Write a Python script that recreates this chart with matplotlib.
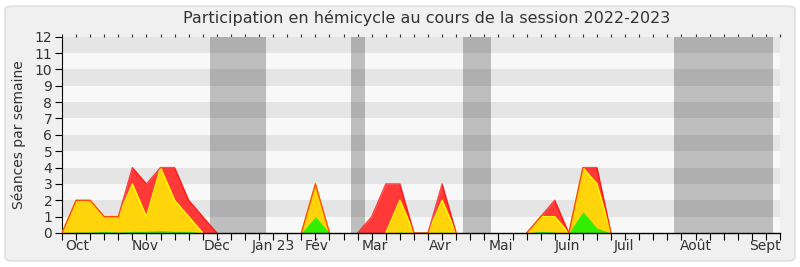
import matplotlib
matplotlib.use('Agg')
from matplotlib import pyplot as plt
from matplotlib.patches import FancyBboxPatch
import numpy as np

# weekly values, 52 weeks from end of Sept 2022
total = [0, 2, 2, 1, 1, 4, 3, 4, 4, 2, 1, 0, 0, 0, 0, 0, 0, 0, 3, 0,
         0, 0, 1, 3, 3, 0, 0, 3, 0, 0, 0, 0, 0, 0, 1, 2, 0, 4, 4, 0,
         0, 0, 0, 0, 0, 0, 0, 0, 0, 0, 0, 0]
present = [0, 2, 2, 1, 1, 3, 1, 4, 2, 1, 0, 0, 0, 0, 0, 0, 0, 0, 3, 0,
           0, 0, 0, 0, 2, 0, 0, 2, 0, 0, 0, 0, 0, 0, 1, 1, 0, 4, 3, 0,
           0, 0, 0, 0, 0, 0, 0, 0, 0, 0, 0, 0]
speaking = [0, 0.05, 0.05, 0.1, 0.05, 0.1, 0.1, 0.15, 0.1, 0.1, 0, 0, 0, 0, 0, 0, 0, 0, 1, 0,
            0, 0, 0, 0, 0.05, 0, 0, 0.05, 0, 0, 0, 0, 0, 0, 0.1, 0.05, 0, 1.3, 0.3, 0,
            0, 0, 0, 0, 0, 0, 0, 0, 0, 0, 0, 0]

months = ['Oct', 'Nov', 'Déc', 'Jan 23', 'Fév', 'Mar', 'Avr', 'Mai', 'Juin', 'Juil', 'Août', 'Sept']
month_pos = [1.1, 5.9, 11.0, 15.0, 18.1, 22.2, 26.9, 31.2, 35.9, 39.9, 45.0, 49.9]
vacations = [(10.5, 14.5), (20.5, 21.5), (28.5, 30.5), (43.5, 50.5)]

weeks = np.arange(len(total))


def outline(vals):
    # hide the flat runs of zeros so the outline doesn't sit on the axis
    v = np.array(vals, dtype=float)
    prev = np.r_[0, v[:-1]]
    nxt = np.r_[v[1:], 0]
    return np.ma.masked_where((v == 0) & (prev == 0) & (nxt == 0), v)


fig = plt.figure(figsize=(8, 2.67), dpi=100)
fig.patch.set_facecolor('white')
bg = FancyBboxPatch((5 / 800, 6 / 267), 790 / 800, 255 / 267,
                    boxstyle='round,pad=0,rounding_size=0.012',
                    transform=fig.transFigure, facecolor='#f0f0f0',
                    edgecolor='#dcdcdc', linewidth=1, zorder=-1)
fig.patches.append(bg)

ax = fig.add_axes([62 / 800, 1 - 233 / 267, 718 / 800, (233 - 36.7) / 267])
ax.set_zorder(1)
ax.set_facecolor('#f8f8f8')

for a, b in vacations:
    ax.axvspan(a, b, color='#bebebe', lw=0, zorder=1)
for y in range(1, 12, 2):
    ax.axhspan(y, y + 1, color='black', alpha=0.073, lw=0, zorder=2)

ax.fill_between(weeks, total, color='#ff3838', lw=0, zorder=3)
ax.fill_between(weeks, present, color='#ffd40a', lw=0, zorder=4)
ax.plot(weeks, outline(present), color='#ffff00', lw=1, zorder=5)
ax.fill_between(weeks, speaking, color='#33ee00', lw=0, zorder=6)
ax.plot(weeks, outline(total), color='#ff0000', lw=1, alpha=0.7, zorder=7)

ax.set_xlim(0, len(total) - 1)
ax.set_ylim(0, 12)
ax.set_yticks(range(13))
ax.set_yticklabels([str(v) for v in range(13)], fontsize=10, color='#333333')
ax.set_xticks(weeks)
ax.set_xticklabels([])
ax.tick_params(axis='x', length=5, width=0.8, color='black')
ax.tick_params(axis='y', length=5, width=0.8, pad=2)
for s in ['top', 'right']:
    ax.spines[s].set_visible(False)
ax.spines['left'].set_linewidth(0.8)
ax.spines['bottom'].set_linewidth(1)
ax.spines['bottom'].set_zorder(8)

top = ax.secondary_xaxis('top')
top.set_xticks(weeks)
top.set_xticklabels([])
top.tick_params(length=2, width=0.8, color='#333333')
top.spines['top'].set_visible(False)

for m, p in zip(months, month_pos):
    ax.text(p, -0.03, m, transform=ax.get_xaxis_transform(), ha='center', va='top',
            fontsize=10, color='#333333')

ax.set_ylabel('Séances par semaine', fontsize=10, color='#333333', labelpad=6)
fig.text(427 / 800, 1 - 18 / 267, 'Participation en hémicycle au cours de la session 2022-2023',
         ha='center', va='center', fontsize=11.5, color='#333333')

fig.savefig('out.png', dpi=100)
